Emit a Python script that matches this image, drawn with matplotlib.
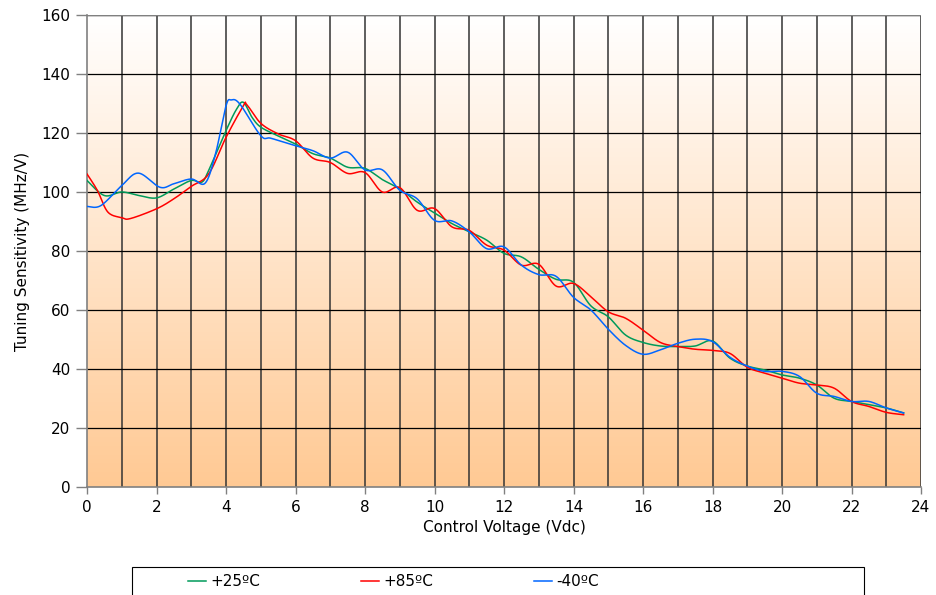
import numpy as np
import matplotlib
matplotlib.use('Agg')
import matplotlib.pyplot as plt
from matplotlib.patches import Rectangle

# data
x_25 = [0, 0.5, 1, 1.5, 2, 2.5, 3, 3.3, 3.5, 4, 4.3, 4.5, 4.75, 5, 5.5, 6, 6.5, 7, 7.5, 8, 8.5,
        9, 9.5, 10, 10.5, 11, 11.5, 12, 12.5, 13, 13.5, 14, 14.5, 15, 15.5, 16, 16.5, 17, 17.5,
        18, 18.5, 19, 19.5, 20, 20.5, 21, 21.5, 22, 22.5, 23, 23.5]
y_25 = [103.9, 98.8, 100, 98.8, 98, 101, 103.9, 103.3, 107.3, 120.8, 128, 130.4, 125.3, 122, 119,
        116.3, 113, 111.5, 108.4, 108, 104.2, 101.1, 96.6, 92.9, 89.3, 86.5, 83.7, 79.2, 78, 73.8,
        70.4, 69.4, 61.4, 57.7, 51.5, 49, 47.8, 47.6, 47.8, 49.5, 43.7, 41, 39.7, 38, 36.9, 34.6,
        30.1, 29, 27.9, 26.8, 25.1]

x_85 = [0, 0.3, 0.6, 1, 1.25, 2, 2.5, 3, 3.5, 4, 4.5, 4.6, 5, 5.5, 6, 6.5, 7, 7.5, 8, 8.5,
        9, 9.5, 10, 10.5, 11, 11.5, 12, 12.5, 13, 13.5, 14, 14.5, 15, 15.5, 16, 16.5, 17, 17.5,
        18, 18.5, 19, 19.5, 20, 20.5, 21, 21.5, 22, 22.5, 23, 23.5]
y_85 = [106.1, 100.5, 93.2, 91.3, 91, 94.3, 97.7, 101.9, 106.1, 118.5, 129.2, 129.6, 123.3, 119.7,
        117.4, 111.5, 110, 106.3, 106.6, 100, 101.5, 93.8, 94.4, 88.2, 87, 82, 80.3, 75.2, 75.5,
        68.1, 69, 64.5, 59.4, 57.2, 53.2, 49, 47.6, 46.7, 46.3, 45.3, 40.6, 38.6, 36.9, 35.2, 34.6,
        33.5, 29, 27.3, 25.3, 24.5]

x_40 = [0, 0.4, 1, 1.48, 2.1, 2.5, 3, 3.4, 3.7, 4, 4.15, 4.4, 5, 5.3, 6, 6.5, 7, 7.5, 8, 8.5,
        9, 9.5, 10, 10.5, 11, 11.5, 12, 12.5, 13, 13.5, 14, 14.5, 15, 15.5, 16, 16.5, 17, 17.5,
        18, 18.5, 19, 19.5, 20, 20.5, 21, 21.5, 22, 22.5, 23, 23.5]
y_40 = [95.1, 95.4, 102.2, 106.4, 101.6, 102.8, 104.4, 103, 113, 129.2, 131.2, 129.8, 119.1, 118.2,
        115.7, 114, 111.5, 113.5, 107.5, 107.5, 100.6, 97.7, 90.4, 90.2, 86.5, 80.8, 81.4, 75.2, 72,
        71.4, 64.3, 60, 53.5, 48, 45, 46.5, 48.7, 50.1, 49.3, 44, 41, 39.2, 39.2, 37.5, 31.8, 30.7,
        29, 29, 26.8, 25.1]

labels = ['+25ºC', '+85ºC', '-40ºC']
colors = ['#009a5a', '#ff0000', '#0066ff']


def smooth(x, y, n=24):
    # catmull-rom curve through the points, like the spreadsheet's smoothed lines
    pts = np.column_stack([x, y]).astype(float)
    p = np.vstack([pts[0], pts, pts[-1]])
    t = np.linspace(0, 1, n, endpoint=False)[:, None]
    out = []
    for i in range(1, len(p) - 2):
        p0, p1, p2, p3 = p[i - 1], p[i], p[i + 1], p[i + 2]
        out.append(0.5 * (2 * p1 + (-p0 + p2) * t + (2 * p0 - 5 * p1 + 4 * p2 - p3) * t ** 2
                          + (-p0 + 3 * p1 - 3 * p2 + p3) * t ** 3))
    out.append(pts[-1:])
    s = np.vstack(out)
    return s[:, 0], s[:, 1]


plt.rcParams['font.family'] = 'DejaVu Sans'
fig = plt.figure(figsize=(9.36, 5.95), dpi=100)
ax = fig.add_axes([87 / 936, 108 / 595, 834 / 936, 472 / 595])

# white at the top fading to orange at the bottom
grad = np.linspace(0, 1, 256)[:, None]
top = np.array([1.0, 1.0, 1.0])
bot = np.array([1.0, 0.79, 0.58])
img = top + (bot - top) * grad[..., None]
ax.imshow(img, extent=[0, 24, 0, 160], aspect='auto', zorder=0, origin='upper')
ax.set_xlim(0, 24)
ax.set_ylim(0, 160)

for v in range(1, 25):
    ax.axvline(v, color='#333333', lw=1.1, zorder=1)
for v in range(20, 161, 20):
    ax.axhline(v, color='#000000', lw=0.9, zorder=1)
ax.axhline(160, color='#808080', lw=1.0, zorder=1)

handles = []
for xs, ys, c, lab in zip([x_25, x_85, x_40], [y_25, y_85, y_40], colors, labels):
    sx, sy = smooth(xs, ys)
    h, = ax.plot(sx, sy, color=c, lw=1.1, label=lab, zorder=3)
    handles.append(h)

ax.set_xticks(range(0, 25, 2))
ax.set_yticks(range(0, 161, 20))
ax.tick_params(axis='both', direction='out', length=8, width=1, color='#808080',
               labelsize=11, pad=4)
ax.tick_params(axis='x', length=5)
for s in ['left', 'bottom']:
    ax.spines[s].set_color('#808080')
    ax.spines[s].set_linewidth(1.2)
ax.spines['top'].set_visible(False)
ax.spines['right'].set_visible(False)

ax.set_xlabel('Control Voltage (Vdc)', fontsize=11, labelpad=4)
ax.set_ylabel('Tuning Sensitivity (MHz/V)', fontsize=11, labelpad=8)

# legend box at the bottom
fig.patches.append(Rectangle((132 / 936, -0.02), 732 / 936, 28 / 595 + 0.02,
                             transform=fig.transFigure, facecolor='white',
                             edgecolor='black', lw=0.8))
fig.legend(handles=handles, loc='center left', bbox_to_anchor=(188 / 936, 13 / 595),
           ncol=3, frameon=False, fontsize=11, handlelength=1.2, handletextpad=0.25,
           columnspacing=6.6, borderaxespad=0, borderpad=0)

fig.savefig('out.png', dpi=100)
